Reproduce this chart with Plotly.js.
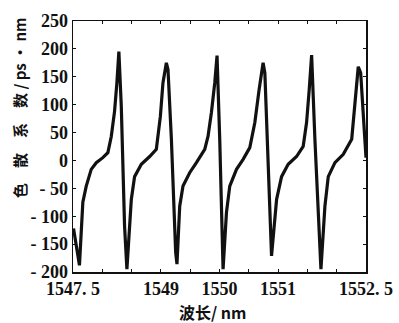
<!DOCTYPE html>
<html>
<head>
<meta charset="utf-8">
<script src="https://cdn.plot.ly/plotly-3.0.1.min.js"></script>
<style>html,body{margin:0;padding:0;background:#fff;}#chart{width:399px;height:323px;}
#chart .xtick text, #chart .ytick text{font-weight:bold !important;}</style>
</head>
<body>
<div id="chart"></div>
<script>
// Wavelength (nm)
const wavelength = [
  1547.509, 1547.55, 1547.61, 1547.668, 1547.726, 1547.811, 1547.897, 1548.009, 1548.095, 1548.153,
  1548.209, 1548.249, 1548.283, 1548.324, 1548.380, 1548.420, 1548.495, 1548.551, 1548.666, 1548.808,
  1548.922, 1548.991, 1549.035, 1549.093, 1549.121, 1549.179, 1549.252, 1549.274, 1549.321, 1549.377,
  1549.491, 1549.606, 1549.748, 1549.804, 1549.862, 1549.919, 1549.958, 1550.004, 1550.061, 1550.119,
  1550.175, 1550.290, 1550.403, 1550.517, 1550.603, 1550.676, 1550.744, 1550.774, 1550.830, 1550.888,
  1550.974, 1551.059, 1551.172, 1551.315, 1551.428, 1551.486, 1551.531, 1551.572, 1551.628, 1551.731,
  1551.799, 1551.856, 1551.970, 1552.112, 1552.256, 1552.312, 1552.368, 1552.409, 1552.483, 1552.5
];
// Dispersion (ps/nm)
const dispersion = [
  -122, -150, -188, -75, -46, -16, -4, 5, 14, 43,
  88, 139, 195, 97, -118, -195, -70, -29, -7, 7,
  20, 79, 139, 175, 163, 38, -165, -186, -82, -46,
  -22, -4, 20, 43, 86, 139, 188, 38, -195, -93,
  -46, -16, 2, 23, 68, 127, 175, 157, -21, -171,
  -70, -29, -7, 7, 25, 68, 127, 189, 38, -195,
  -82, -29, -4, 11, 38, 96, 168, 157, 38, 5
];
const xTickVals = [1547.5, 1548, 1548.5, 1549, 1549.5, 1550, 1550.5, 1551, 1551.5, 1552, 1552.5];
const xTickText = ['1547. 5', '', '', '1549', '', '1550', '', '1551', '', '', '1552. 5'];
const yTickVals = [-200, -150, -100, -50, 0, 50, 100, 150, 200, 250];
const yTickText = ['- 200', '- 150', '- 100', '- 50', '0', '50', '100', '150', '200', '250'];

const tickFont = {family: 'Liberation Serif', size: 18, color: '#111', weight: 700};

Plotly.newPlot('chart', [{
  x: wavelength, y: dispersion, mode: 'lines', type: 'scatter',
  line: {color: '#111', width: 3.2, shape: 'linear'}, hoverinfo: 'skip'
}], {
  width: 399, height: 323,
  margin: {l: 73, r: 33, t: 21, b: 51, pad: 0},
  paper_bgcolor: '#fff', plot_bgcolor: '#fff',
  showlegend: false,
  xaxis: {
    range: [1547.5, 1552.5], tickvals: xTickVals, ticktext: xTickText,
    ticks: 'inside', ticklen: 3, tickwidth: 1, tickcolor: '#111',
    showline: true, linecolor: '#111', linewidth: 1.5, mirror: 'ticks',
    showgrid: false, zeroline: false, tickfont: tickFont
  },
  yaxis: {
    range: [-200, 250], tickvals: yTickVals, ticktext: yTickText,
    ticks: 'inside', ticklen: 3, tickwidth: 1, tickcolor: '#111',
    showline: true, linecolor: '#111', linewidth: 1.5, mirror: 'ticks',
    showgrid: false, zeroline: false, tickfont: tickFont
  },
  annotations: [{
    xref: 'paper', yref: 'paper', x: -0.183, y: 0.655, xanchor: 'center', yanchor: 'middle',
    textangle: -90, showarrow: false,
    text: '<b>色\u3000散\u3000系\u3000数 / ps · nm</b>',
    font: {family: 'Noto Sans CJK SC', size: 15, color: '#111'}
  }, {
    xref: 'paper', yref: 'paper', x: 0.478, y: -0.108, xanchor: 'center', yanchor: 'top',
    showarrow: false, borderpad: 0,
    text: '<b>波长/ nm</b>',
    font: {family: 'Noto Sans CJK SC', size: 16, color: '#111'}
  }]
}, {displayModeBar: false, staticPlot: true});
</script>
</body>
</html>
